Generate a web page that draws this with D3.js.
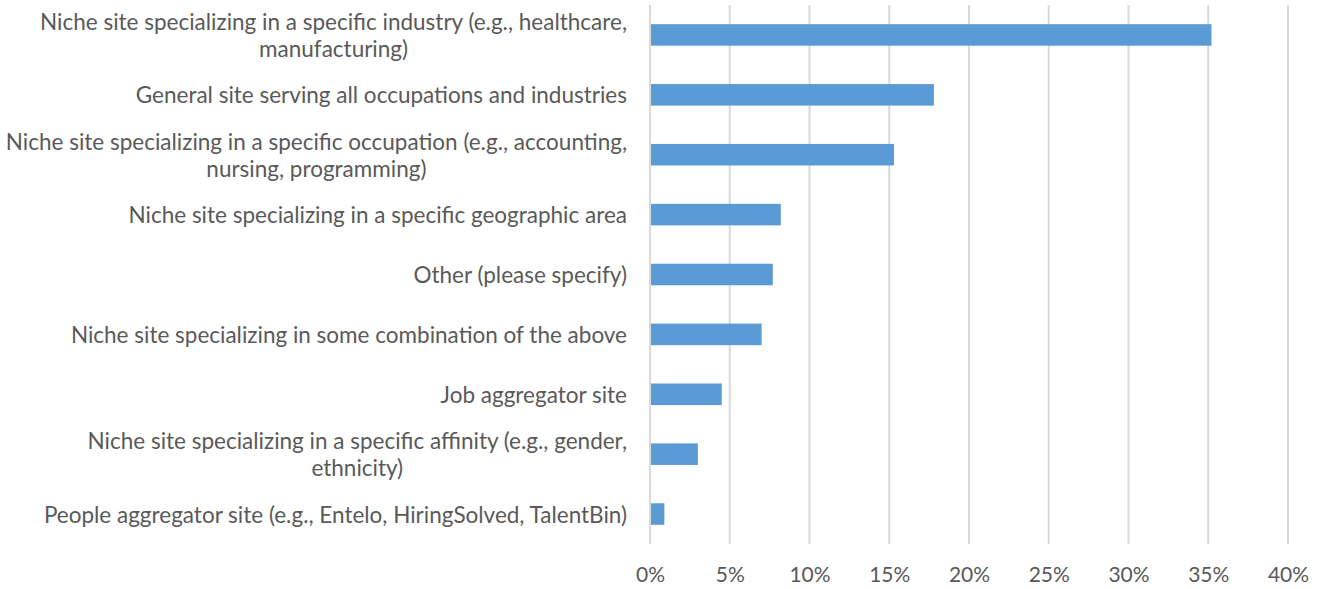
<!DOCTYPE html>
<html>
<head>
<meta charset="utf-8">
<script src="https://cdn.jsdelivr.net/npm/d3@7"></script>
<style>
  html, body { margin: 0; padding: 0; background: #fff; }
  svg text { font-family: Lato, "Open Sans", sans-serif; fill: #595959; }
</style>
</head>
<body>
<svg id="chart" width="1318" height="589"></svg>
<script>
const categories = [
  "Niche site specializing in a specific industry (e.g., healthcare,\nmanufacturing)",
  "General site serving all occupations and industries",
  "Niche site specializing in a specific occupation (e.g., accounting,\nnursing, programming)",
  "Niche site specializing in a specific geographic area",
  "Other (please specify)",
  "Niche site specializing in some combination of the above",
  "Job aggregator site",
  "Niche site specializing in a specific affinity (e.g., gender,\nethnicity)",
  "People aggregator site (e.g., Entelo, HiringSolved, TalentBin)"
];
const values = [35.2, 17.8, 15.3, 8.2, 7.7, 7.0, 4.5, 3.0, 0.9];
const tickValues = [0, 5, 10, 15, 20, 25, 30, 35, 40];
const tickLabels = ["0%", "5%", "10%", "15%", "20%", "25%", "30%", "35%", "40%"];

const svg = d3.select("#chart");
const margin = { left: 650, top: 5 };

const x = d3.scaleLinear().domain([0, 40]).range([margin.left, 1288]);
const y = d3.scaleBand().domain(categories).range([margin.top, 544]).paddingInner(0.64).paddingOuter(0.32);

// gridlines
svg.append("g").selectAll("line").data(tickValues).join("line")
  .attr("x1", d => x(d)).attr("x2", d => x(d))
  .attr("y1", margin.top).attr("y2", 544)
  .attr("stroke", "#d9d9d9").attr("stroke-width", 2);

// bars
svg.append("g").selectAll("rect").data(values).join("rect")
  .attr("x", x(0) + 1)
  .attr("y", (d, i) => y(categories[i]))
  .attr("width", d => x(d) - x(0) - 1)
  .attr("height", y.bandwidth())
  .attr("fill", "#5B9BD5");

// x axis labels
const xAxis = d3.axisBottom(x).tickValues(tickValues).tickFormat((d, i) => tickLabels[i]).tickSize(0).tickPadding(0);
const gx = svg.append("g").attr("transform", "translate(0,582)").call(xAxis);
gx.select(".domain").remove();
gx.selectAll("text").attr("y", 0).attr("dy", 0)
  .attr("font-size", 21).attr("font-family", "Lato, sans-serif").attr("fill", "#595959");

// category labels (block right-aligned, lines centred within block)
const lineH = 27;
const rightX = 627;
const labels = svg.append("g").selectAll("text").data(categories).join("text")
  .attr("font-size", 22.5)
  .attr("y", d => y(d) + y.bandwidth() / 2);
labels.each(function(d) {
  const lines = d.split("\n");
  const t = d3.select(this);
  const off = -(lines.length - 1) * lineH / 2;
  const spans = lines.map((ln, j) => t.append("tspan")
      .attr("dy", j === 0 ? off : lineH)
      .attr("dominant-baseline", "central")
      .text(ln));
  const maxW = d3.max(spans, s => s.node().getComputedTextLength());
  const cx = rightX - maxW / 2;
  spans.forEach(s => s.attr("x", cx).attr("text-anchor", "middle"));
});
</script>
</body>
</html>
